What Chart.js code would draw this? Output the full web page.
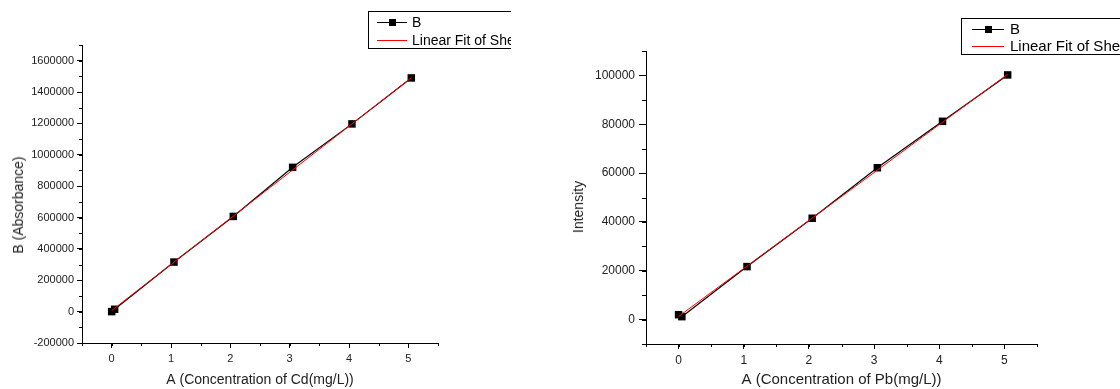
<!DOCTYPE html>
<html>
<head>
<meta charset="utf-8">
<script src="https://cdn.jsdelivr.net/npm/chart.js@4"></script>
<style>
    html, body { margin: 0; padding: 0; background: #fff; }
    body { width: 1120px; height: 389px; position: relative; overflow: hidden; font-family: "Liberation Sans", Arial, sans-serif; }
    canvas { position: absolute; top: 0; }
    #cdChart { left: 0; }
    #pbChart { left: 560px; }
    .yTitle { position: absolute; font-size: 14px; color: #222; white-space: nowrap; transform: translate(-50%, -50%) rotate(-90deg); }
</style>
</head>
<body>
<canvas id="cdChart" width="511" height="389"></canvas>
<canvas id="pbChart" width="560" height="389"></canvas>
<div class="yTitle" style="left:18px; top:205px;">B (Absorbance)</div>
<div class="yTitle" style="left:578px; top:207px;">Intensity</div>
<script>
// Cd calibration
const cdConc = [0, 0.05, 1.05, 2.05, 3.05, 4.05, 5.05];
const cdSignal = [0, 15000, 316000, 607000, 920000, 1197000, 1490000];
const cdFitConc = [0, 5.05];
const cdFitSignal = [7000, 1491000];

// Pb calibration
const pbConc = [0, 0.05, 1.05, 2.05, 3.05, 4.05, 5.05];
const pbSignal = [2000, 1200, 21700, 41500, 62200, 81200, 100200];
const pbFitConc = [0, 5.05];
const pbFitSignal = [1300, 100500];

// tick labels
const concTicks = [0, 1, 2, 3, 4, 5];
const cdTicks = [-200000, 0, 200000, 400000, 600000, 800000, 1000000, 1200000, 1400000, 1600000];
const pbTicks = [0, 20000, 40000, 60000, 80000, 100000];

const seriesLabels = ["B", "Linear Fit of Sheet1 B"];
const TEXT = "#222";
const FONT = "'Liberation Sans', Arial, sans-serif";

const toPoints = (xs, ys) => xs.map((x, i) => ({ x: x, y: ys[i] }));
const setTicks = (values) => (scale) => {
    scale.ticks = values.map(v => ({ value: v }));
};

// small minor ticks between the major ones
const minorTicks = {
    id: "minorTicks",
    afterDraw(chart, args, opts) {
        const ctx = chart.ctx;
        const xs = chart.scales.x;
        const ys = chart.scales.y;
        ctx.save();
        ctx.strokeStyle = "#000";
        ctx.lineWidth = 1;
        for (let v = xs.min; v <= xs.max + 1e-9; v += opts.xStep) {
            const px = Math.round(xs.getPixelForValue(v)) + 0.5;
            ctx.beginPath();
            ctx.moveTo(px, xs.top);
            ctx.lineTo(px, xs.top + opts.xLen);
            ctx.stroke();
        }
        for (let v = ys.min; v <= ys.max + 1e-9; v += opts.yStep) {
            const py = Math.round(ys.getPixelForValue(v)) + 0.5;
            ctx.beginPath();
            ctx.moveTo(ys.right, py);
            ctx.lineTo(ys.right - opts.yLen, py);
            ctx.stroke();
        }
        ctx.restore();
    }
};

// Origin style legend box, cut off by the canvas edge
const boxLegend = {
    id: "boxLegend",
    afterDraw(chart, args, opts) {
        const ctx = chart.ctx;
        const ds = chart.data.datasets;
        ctx.save();
        ctx.strokeStyle = "#000";
        ctx.lineWidth = 1;
        ctx.strokeRect(opts.x + 0.5, opts.y + 0.5, 300, opts.h);

        ctx.font = opts.fontSize + "px " + FONT;
        ctx.fillStyle = "#000";
        ctx.textBaseline = "middle";

        // row 1: data line with square marker
        ctx.beginPath();
        ctx.moveTo(opts.lineStart, opts.row1 + 0.5);
        ctx.lineTo(opts.lineEnd, opts.row1 + 0.5);
        ctx.stroke();
        const mid = (opts.lineStart + opts.lineEnd) / 2;
        ctx.fillRect(mid - 3, opts.row1 - 3, 7, 7);
        ctx.fillText(ds[0].label, opts.textX, opts.row1 + 1);

        // row 2: fit line
        ctx.strokeStyle = ds[1].borderColor;
        ctx.beginPath();
        ctx.moveTo(opts.lineStart, opts.row2 + 0.5);
        ctx.lineTo(opts.lineEnd, opts.row2 + 0.5);
        ctx.stroke();
        ctx.fillText(ds[1].label, opts.textX, opts.row2 + 1);
        ctx.restore();
    }
};

function makeChart(canvasId, cfg) {
    return new Chart(document.getElementById(canvasId).getContext("2d"), {
        type: "line",
        data: {
            datasets: [{
                label: seriesLabels[0],
                data: toPoints(cfg.conc, cfg.signal),
                borderColor: "#000",
                backgroundColor: "#000",
                borderWidth: 1.2,
                pointStyle: "rect",
                pointRadius: 5.3,
                pointBorderWidth: 0,
                pointBackgroundColor: "#000",
                tension: 0,
                order: 1
            }, {
                label: seriesLabels[1],
                data: toPoints(cfg.fitConc, cfg.fitSignal),
                borderColor: "#ff0000",
                borderWidth: 1,
                pointRadius: 0,
                tension: 0,
                order: 0
            }]
        },
        options: {
            responsive: false,
            animation: false,
            events: [],
            layout: { padding: cfg.padding },
            plugins: {
                legend: { display: false },
                tooltip: { enabled: false },
                minorTicks: cfg.minor,
                boxLegend: cfg.legend
            },
            scales: {
                x: {
                    type: "linear",
                    min: -0.5,
                    max: 5.5,
                    afterBuildTicks: setTicks(concTicks),
                    ticks: {
                        color: TEXT,
                        font: { family: FONT, size: cfg.tickFont },
                        padding: 4,
                        maxRotation: 0,
                        autoSkip: false,
                        callback: (v) => String(v)
                    },
                    grid: { drawOnChartArea: false, tickLength: 5, color: "#000" },
                    border: { color: "#000", width: 1 },
                    title: {
                        display: true,
                        text: cfg.xTitle,
                        color: TEXT,
                        font: { family: FONT, size: cfg.titleFont },
                        padding: 0
                    },
                    afterFit: (s) => { s.height = cfg.xHeight; }
                },
                y: {
                    type: "linear",
                    min: cfg.yMin,
                    max: cfg.yMax,
                    afterBuildTicks: setTicks(cfg.yTicks),
                    ticks: {
                        color: TEXT,
                        font: { family: FONT, size: cfg.tickFont },
                        padding: cfg.yPad,
                        autoSkip: false,
                        callback: (v) => String(v)
                    },
                    grid: { drawOnChartArea: false, tickLength: cfg.yTickLen, color: "#000" },
                    border: { color: "#000", width: 1 },
                    afterFit: (s) => { s.width = cfg.yWidth; }
                }
            }
        },
        plugins: [minorTicks, boxLegend]
    });
}

makeChart("cdChart", {
    conc: cdConc, signal: cdSignal, fitConc: cdFitConc, fitSignal: cdFitSignal,
    xTitle: "A (Concentration of Cd(mg/L))",
    yMin: -200000, yMax: 1700000, yTicks: cdTicks, yTickLen: 5, yPad: 3,
    tickFont: 11, titleFont: 14,
    yWidth: 82, xHeight: 46,
    padding: { left: 0, top: 45, right: 73, bottom: 0 },
    minor: { xStep: 0.5, yStep: 100000, xLen: 3, yLen: 3 },
    legend: { x: 368, y: 11, h: 37, row1: 22, row2: 40, lineStart: 377, lineEnd: 407, textX: 412, fontSize: 14 }
});

makeChart("pbChart", {
    conc: pbConc, signal: pbSignal, fitConc: pbFitConc, fitSignal: pbFitSignal,
    xTitle: "A (Concentration of Pb(mg/L))",
    yMin: -10000, yMax: 110000, yTicks: pbTicks, yTickLen: 7, yPad: 4,
    tickFont: 12, titleFont: 15,
    yWidth: 86, xHeight: 45,
    padding: { left: 0, top: 51, right: 83, bottom: 0 },
    minor: { xStep: 0.5, yStep: 10000, xLen: 3, yLen: 4 },
    legend: { x: 401, y: 18, h: 36, row1: 29, row2: 46, lineStart: 412, lineEnd: 444, textX: 450, fontSize: 15 }
});
</script>
</body>
</html>
